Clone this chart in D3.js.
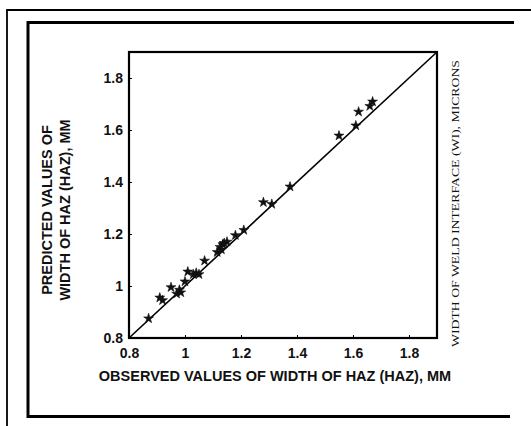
<!DOCTYPE html>
<meta charset="utf-8">
<script src="https://cdn.jsdelivr.net/npm/d3@7"></script>
<style>
  body { margin: 0; background: #fff; }
  text { font-family: "Liberation Sans", Arial, sans-serif; font-weight: bold; fill: #111; }
</style>
<div id="chart"></div>
<script>

  // observed vs predicted HAZ width (mm)
  const observed  = [0.87, 0.91, 0.92, 0.95, 0.97, 0.98, 0.985, 1.00, 1.01, 1.03, 1.04, 1.05,
                     1.07, 1.115, 1.125, 1.13, 1.135, 1.14, 1.15, 1.18, 1.21, 1.28, 1.31, 1.375,
                     1.55, 1.61, 1.62, 1.66, 1.67];
  const predicted = [0.875, 0.955, 0.945, 0.995, 0.97, 0.985, 0.975, 1.017, 1.055, 1.045, 1.05, 1.045,
                     1.097, 1.13, 1.15, 1.14, 1.16, 1.165, 1.17, 1.195, 1.215, 1.322, 1.315, 1.382,
                     1.578, 1.617, 1.670, 1.692, 1.709];
  const tickValues = [0.8, 1, 1.2, 1.4, 1.6, 1.8];
  const axisMin = 0.8, axisMax = 1.9;

  const xTitle = "OBSERVED VALUES OF WIDTH OF HAZ (HAZ), MM";
  const yTitle = ["PREDICTED VALUES OF", "WIDTH OF HAZ (HAZ), MM"];
  const sideNote = "WIDTH OF WELD INTERFACE (WI), MICRONS";

  const W = 531, H = 426;
  const plot = {left: 129, right: 437, top: 52, bottom: 338};

  const svg = d3.select("#chart").append("svg")
    .attr("width", W)
    .attr("height", H);

  // page frames (scan border)
  svg.append("path")
    .attr("d", `M7,${H} V10 H${W}`)
    .attr("fill", "none").attr("stroke", "#000").attr("stroke-width", 1.8);
  svg.append("path")
    .attr("d", `M514,22.5 H28 V416.5 H510`)
    .attr("fill", "none").attr("stroke", "#000").attr("stroke-width", 3);

  const x = d3.scaleLinear().domain([axisMin, axisMax]).range([plot.left, plot.right]);
  const y = d3.scaleLinear().domain([axisMin, axisMax]).range([plot.bottom, plot.top]);

  // axes: short ticks pointing into the plot
  const fmt = d => d === 1 ? "1" : d3.format(".1f")(d);
  const gx = svg.append("g")
    .attr("transform", `translate(0,${plot.bottom})`)
    .call(d3.axisBottom(x).tickValues(tickValues).tickSizeInner(-3).tickSizeOuter(0).tickPadding(10).tickFormat(fmt));
  const gy = svg.append("g")
    .attr("transform", `translate(${plot.left},0)`)
    .call(d3.axisLeft(y).tickValues(tickValues).tickSizeInner(-3).tickSizeOuter(0).tickPadding(6).tickFormat(fmt));

  [gx, gy].forEach(g => {
    g.select(".domain").remove();
    g.selectAll("line").attr("stroke", "#000").attr("stroke-width", 1);
    g.selectAll("text")
      .style("font-family", "'Liberation Sans', Arial, sans-serif")
      .style("font-weight", "bold")
      .style("font-size", "14px")
      .attr("fill", "#111");
  });

  // plot box
  svg.append("rect")
    .attr("x", plot.left).attr("y", plot.top)
    .attr("width", plot.right - plot.left).attr("height", plot.bottom - plot.top)
    .attr("fill", "none").attr("stroke", "#000").attr("stroke-width", 2.2);

  // 1:1 line
  svg.append("line")
    .attr("x1", x(axisMin)).attr("y1", y(axisMin))
    .attr("x2", x(axisMax)).attr("y2", y(axisMax))
    .attr("stroke", "#000").attr("stroke-width", 1.6);

  // points
  const star = d3.symbol().type(d3.symbolStar).size(30);
  svg.append("g").selectAll("path")
    .data(observed.map((o, i) => [o, predicted[i]]))
    .join("path")
      .attr("d", star)
      .attr("transform", d => `translate(${x(d[0])},${y(d[1])})`)
      .attr("fill", "#111")
      .attr("stroke", "#111")
      .attr("stroke-width", 0.6);

  // axis titles
  svg.append("text")
    .attr("x", 275).attr("y", 381)
    .attr("text-anchor", "middle")
    .style("font-size", "14.5px")
    .text(xTitle);

  svg.append("g")
    .attr("transform", "translate(52,210) rotate(-90)")
    .selectAll("text")
    .data(yTitle)
    .join("text")
      .attr("x", 0)
      .attr("y", (d, i) => i * 18)
      .attr("text-anchor", "middle")
      .style("font-size", "14.5px")
      .text(d => d);

  // faint bleed-through caption on the right
  svg.append("text")
    .attr("transform", "translate(459,347) rotate(-90)")
    .attr("textLength", 287)
    .attr("lengthAdjust", "spacingAndGlyphs")
    .style("font-size", "10px")
    .style("font-weight", "normal")
    .style("font-family", "'Liberation Serif', serif")
    .attr("fill", "#666")
    .text(sideNote);

</script>
